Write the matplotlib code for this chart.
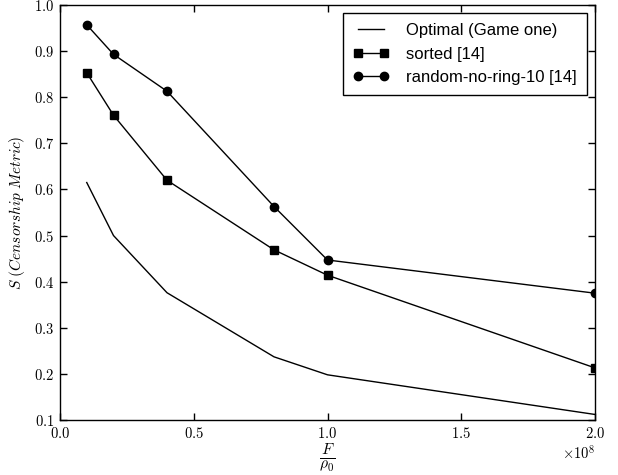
import matplotlib
matplotlib.use('Agg')
import matplotlib.pyplot as plt

# data (x in units of 1e8)
x_vals = [0.1e8, 0.2e8, 0.4e8, 0.8e8, 1.0e8, 2.0e8]
optimal = [0.615, 0.500, 0.376, 0.237, 0.198, 0.112]
sorted_14 = [0.853, 0.761, 0.620, 0.469, 0.414, 0.213]
random_ring = [0.957, 0.893, 0.813, 0.563, 0.447, 0.375]

plt.rcParams['mathtext.fontset'] = 'cm'
plt.rcParams['font.family'] = 'serif'
plt.rcParams['font.serif'] = ['cmr10']
plt.rcParams['axes.formatter.use_mathtext'] = True
plt.rcParams['xtick.direction'] = 'in'
plt.rcParams['ytick.direction'] = 'in'
plt.rcParams['xtick.top'] = True
plt.rcParams['ytick.right'] = True

fig = plt.figure(figsize=(6.18, 4.75), dpi=100)
ax = fig.add_axes([60 / 618, 1 - 420 / 475, 535 / 618, 415 / 475])

ax.plot(x_vals, optimal, color='black', lw=1.0, label='Optimal (Game one)')
ax.plot(x_vals, sorted_14, color='black', lw=1.0, marker='s', markersize=6,
        label='sorted [14]')
ax.plot(x_vals, random_ring, color='black', lw=1.0, marker='o', markersize=6,
        label='random-no-ring-10 [14]')

ax.set_xlim(0, 2e8)
ax.set_ylim(0.1, 1.0)
ax.set_xticks([0, 0.5e8, 1.0e8, 1.5e8, 2.0e8])
ax.set_yticks([0.1, 0.2, 0.3, 0.4, 0.5, 0.6, 0.7, 0.8, 0.9, 1.0])
ax.tick_params(labelsize=10.5, length=5, width=1, pad=4)
ax.xaxis.get_offset_text().set_fontsize(10.5)
for s in ax.spines.values():
    s.set_linewidth(1.0)

ax.set_xlabel(r'$\frac{F}{\rho_0}$', fontsize=16, labelpad=1)
ax.set_ylabel(r'$S\ (Censorship\ Metric)$', fontsize=11, labelpad=5)

leg = ax.legend(loc='upper right', prop={'family': 'Liberation Sans', 'size': 12},
                fancybox=False, edgecolor='black', framealpha=1,
                handlelength=2.2, handletextpad=1.0, borderpad=0.6,
                borderaxespad=0.5, labelspacing=0.5, numpoints=2)
leg.get_frame().set_linewidth(1.0)

plt.savefig('out.png', dpi=100)
